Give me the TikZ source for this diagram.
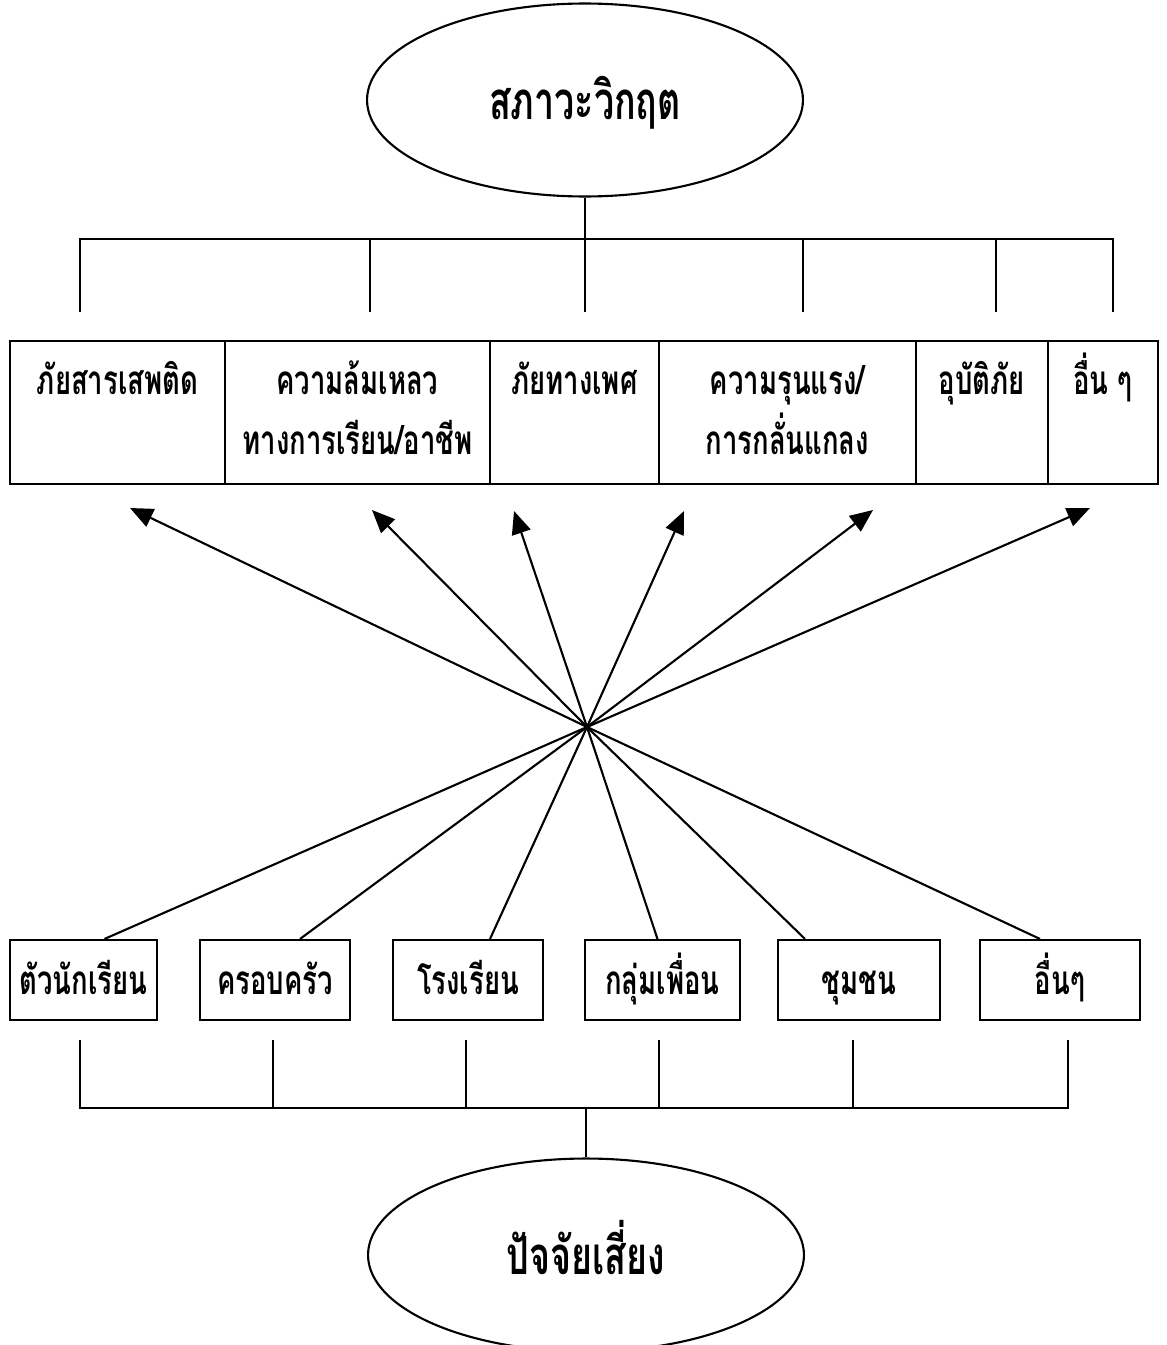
\documentclass[tikz,border=0pt]{standalone}
\usepackage{fontspec}
\newfontfamily\thaifont[Script=Thai,FakeStretch=0.68]{Loma}
\usetikzlibrary{shapes,arrows.meta,calc}

\begin{document}
\begin{tikzpicture}[x=0.02cm,y=-0.02cm,>={Triangle[length=13pt,width=11pt]},
	line width=1.2pt,
	oval/.style={ellipse,draw,minimum width=8.72cm,minimum height=3.86cm,inner sep=0pt,text height=22pt,text depth=0pt,font=\thaifont\bfseries\fontsize{30}{34}\selectfont},
	cell/.style={draw,minimum height=2.86cm,anchor=north west,inner sep=0pt,outer sep=0pt},
	celltext/.style={font=\thaifont\bfseries\fontsize{23}{34}\selectfont,align=center,anchor=base,inner sep=0pt},
	factor/.style={draw,minimum height=1.6cm,inner sep=0pt,text height=18pt,text depth=1pt,font=\thaifont\bfseries\fontsize{23}{26}\selectfont}]
				\useasboundingbox (0,0) rectangle (1166,1345);
				\clip (0,0) rectangle (1166,1345);
				
				% crisis at the top
				\node[oval] (crisis) at (585,100) {สภาวะวิกฤต};
				\draw (crisis.south) -- (585,312);
				\draw (80,312) -- (80,239) -- (1113,239) -- (1113,312);
				\draw (370,239) -- (370,312);
				\draw (803,239) -- (803,312);
				\draw (996,239) -- (996,312);
				
				% row of hazards
				\node[cell,minimum width=4.30cm] (hz1) at (10,341) {};
				\node[cell,minimum width=5.30cm] (hz2) at (hz1.north east) {};
				\node[cell,minimum width=3.38cm] (hz3) at (hz2.north east) {};
				\node[cell,minimum width=5.14cm] (hz4) at (hz3.north east) {};
				\node[cell,minimum width=2.64cm] (hz5) at (hz4.north east) {};
				\node[cell,minimum width=2.20cm] (hz6) at (hz5.north east) {};
				\node[celltext] (hz1t) at ($(hz1.north)+(0,53)$) {ภัยสารเสพติด};
				\node[celltext] (hz2t) at ($(hz2.north)+(0,113)$) {ความล้มเหลว\\ทางการเรียน/อาชีพ};
				\node[celltext] (hz3t) at ($(hz3.north)+(0,53)$) {ภัยทางเพศ};
				\node[celltext] (hz4t) at ($(hz4.north)+(0,113)$) {ความรุนแรง/\\การกลั่นแกลง};
				\node[celltext] (hz5t) at ($(hz5.north)+(0,53)$) {อุบัติภัย};
				\node[celltext] (hz6t) at ($(hz6.north)+(0,53)$) {อื่น ๆ};
				
				% where the lines cross
				\coordinate (hub) at (587,727);
				\coordinate (tip1) at (130,508);
				\coordinate (tip2) at (372,510);
				\coordinate (tip3) at (514,511);
				\coordinate (tip4) at (684,511);
				\coordinate (tip5) at (873,510);
				\coordinate (tip6) at (1090,508);
				
				% row of risk factors
				\node[factor,minimum width=2.94cm] (rf1) at (83.5,980) {ตัวนักเรียน};
				\node[factor,minimum width=3.00cm] (rf2) at (275,980) {ครอบครัว};
				\node[factor,minimum width=3.00cm] (rf3) at (468,980) {โรงเรียน};
				\node[factor,minimum width=3.10cm] (rf4) at (662.5,980) {กลุ่มเพื่อน};
				\node[factor,minimum width=3.24cm] (rf5) at (859,980) {ชุมชน};
				\node[factor,minimum width=3.20cm] (rf6) at (1060,980) {อื่นๆ};
				
				\draw ($(rf1.north)+(21,0)$) -- (hub);
				\draw ($(rf2.north)+(25,0)$) -- (hub);
				\draw ($(rf3.north)+(22,0)$) -- (hub);
				\draw ($(rf4.north)+(-5,0)$) -- (hub);
				\draw ($(rf5.north)+(-54,0)$) -- (hub);
				\draw ($(rf6.north)+(-20,0)$) -- (hub);
				\draw[->] (hub) -- (tip1);
				\draw[->] (hub) -- (tip2);
				\draw[->] (hub) -- (tip3);
				\draw[->] (hub) -- (tip4);
				\draw[->] (hub) -- (tip5);
				\draw[->] (hub) -- (tip6);
				
				% risk factors at the bottom
				\node[oval] (risk) at (586,1255) {ปัจจัยเสี่ยง};
				\draw (80,1040) -- (80,1108) -- (1068,1108) -- (1068,1040);
				\draw (273,1040) -- (273,1108);
				\draw (466,1040) -- (466,1108);
				\draw (659,1040) -- (659,1108);
				\draw (853,1040) -- (853,1108);
				\draw (586,1108) -- (risk.north);
				
\end{tikzpicture}
\end{document}
